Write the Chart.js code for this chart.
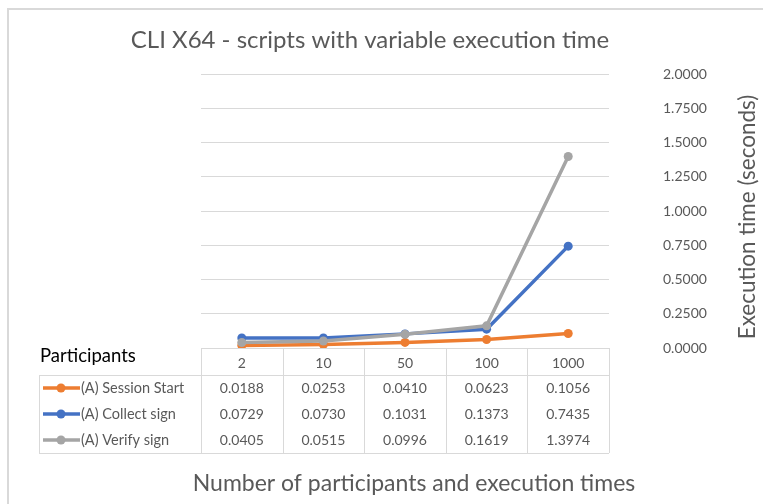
<!DOCTYPE html>
<html>
<head>
<meta charset="utf-8">
<script src="https://cdn.jsdelivr.net/npm/chart.js@4/dist/chart.umd.min.js"></script>
<style>
    body { margin: 0; background: #fff; }
    canvas { display: block; }
</style>
</head>
<body>
<canvas id="lineChart" width="763" height="504"></canvas>
<script>
// data
const participants = ['2', '10', '50', '100', '1000'];
const seriesNames = ['(A) Session Start', '(A) Collect sign', '(A) Verify sign'];
const sessionStart = [0.0188, 0.0253, 0.0410, 0.0623, 0.1056];
const collectSign = [0.0729, 0.0730, 0.1031, 0.1373, 0.7435];
const verifySign = [0.0405, 0.0515, 0.0996, 0.1619, 1.3974];
const yMax = 2;
const yStep = 0.25;

const chartTitle = 'CLI X64 - scripts with variable execution time';
const xTitle = 'Number of participants and execution times';
const yTitle = 'Execution time (seconds)';

const colors = ['#ED7D31', '#4472C4', '#A5A5A5'];
const seriesValues = [sessionStart, collectSign, verifySign];
const FONT = 'Lato, "Open Sans", sans-serif';
const GRAY_TEXT = '#595959';
const LINE = '#d9d9d9';

// table, titles and frame drawn under/around the plot
const tablePlugin = {
    id: 'dataTable',
    beforeDraw(chart) {
        const c = chart.ctx;
        c.save();
        c.strokeStyle = LINE;
        c.lineWidth = 2;
        c.strokeRect(8, 9, 900, 700);
        c.restore();
    },
    afterDraw(chart) {
        const c = chart.ctx;
        const area = chart.chartArea;
        const xs = chart.scales.x;
        const colW = (area.right - area.left) / participants.length;
        const top = area.bottom;
        const headBottom = top + 27;
        const bottom = top + 105;
        const left = 39;

        c.save();
        c.strokeStyle = LINE;
        c.lineWidth = 1;
        c.beginPath();
        for (let i = 0; i <= participants.length; i++) {
            const x = Math.round(area.left + i * colW) + 0.5;
            c.moveTo(x, top);
            c.lineTo(x, bottom);
        }
        c.moveTo(left + 0.5, headBottom);
        c.lineTo(left + 0.5, bottom);
        c.moveTo(left, headBottom + 0.5);
        c.lineTo(area.right, headBottom + 0.5);
        c.moveTo(left, bottom + 0.5);
        c.lineTo(area.right, bottom + 0.5);
        c.stroke();

        // header
        c.textBaseline = 'middle';
        c.fillStyle = '#000';
        c.font = '18.5px ' + FONT;
        c.textAlign = 'left';
        c.fillText('Participants', 40, top + 8);

        c.fillStyle = GRAY_TEXT;
        c.font = '14px ' + FONT;
        c.textAlign = 'center';
        participants.forEach((p, i) => {
            c.fillText(p, xs.getPixelForValue(i), top + 15);
        });

        // rows
        const rowH = (bottom - headBottom) / seriesNames.length;
        seriesNames.forEach((name, r) => {
            const y = headBottom + rowH * (r + 0.5);
            c.strokeStyle = colors[r];
            c.lineWidth = 3.5;
            c.beginPath();
            c.moveTo(43, y);
            c.lineTo(80, y);
            c.stroke();
            c.fillStyle = colors[r];
            c.beginPath();
            c.arc(61, y, 4.5, 0, Math.PI * 2);
            c.fill();

            c.fillStyle = GRAY_TEXT;
            c.font = '14.5px ' + FONT;
            c.textAlign = 'left';
            c.fillText(name, 81, y);

            c.font = '14px ' + FONT;
            c.textAlign = 'center';
            seriesValues[r].forEach((v, i) => {
                c.fillText(v.toFixed(4), xs.getPixelForValue(i), y);
            });
        });

        // titles
        c.fillStyle = GRAY_TEXT;
        c.textAlign = 'center';
        c.font = '24px ' + FONT;
        c.fillText(chartTitle, 370, 40);
        c.font = '23px ' + FONT;
        c.fillText(xTitle, 414, 484);

        c.font = '22.5px ' + FONT;
        c.translate(748, 217);
        c.rotate(-Math.PI / 2);
        c.fillText(yTitle, 0, 0);
        c.restore();
    }
};

const ctx = document.getElementById('lineChart').getContext('2d');

const datasets = seriesNames.map((name, i) => ({
    label: name,
    data: seriesValues[i],
    borderColor: colors[i],
    backgroundColor: colors[i],
    borderWidth: 3.5,
    pointRadius: 4.5,
    pointHoverRadius: 4.5,
    pointBorderWidth: 0,
    tension: 0,
    order: seriesNames.length - i
}));

const myChart = new Chart(ctx, {
    type: 'line',
    data: {
        labels: participants,
        datasets: datasets
    },
    options: {
        responsive: false,
        animation: false,
        layout: {
            padding: { left: 201, right: 4, top: 74, bottom: 156 }
        },
        plugins: {
            legend: { display: false },
            tooltip: { enabled: false }
        },
        scales: {
            x: {
                display: false,
                offset: true
            },
            y: {
                position: 'right',
                min: 0,
                max: yMax,
                afterFit: (scale) => { scale.width = 150; },
                ticks: {
                    stepSize: yStep,
                    padding: 54,
                    color: GRAY_TEXT,
                    font: { family: FONT, size: 14 },
                    callback: (v) => Number(v).toFixed(4)
                },
                grid: {
                    color: LINE,
                    lineWidth: 1,
                    drawTicks: false
                },
                border: { display: false }
            }
        }
    },
    plugins: [tablePlugin]
});
</script>
</body>
</html>
